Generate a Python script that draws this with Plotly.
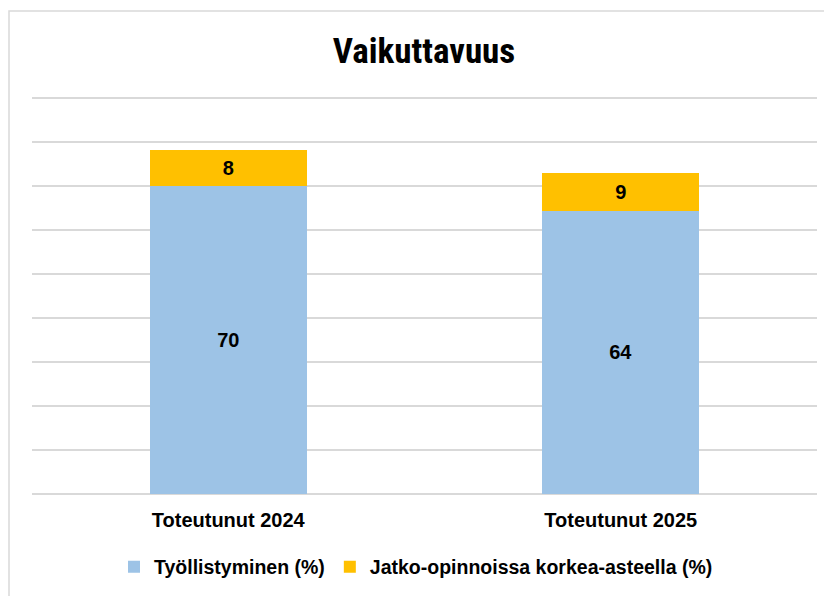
import plotly.graph_objects as go

categories = ["Toteutunut 2024", "Toteutunut 2025"]
tyollistyminen = [70.0, 64.4]
jatko_opinnot = [8.2, 8.6]
series_names = ["Työllistyminen (%)", "Jatko-opinnoissa korkea-asteella (%)"]

FONT = "Liberation Sans, Arial, sans-serif"
TITLE_FONT = "Liberation Sans Narrow, Arial Narrow, Roboto Condensed, sans-serif"

W, H = 832, 596
L, T, R, B = 24, 86, 809, 486  # plot area in figure px
PH = B - T
PW = R - L
YMAX = 90 * PH / 396  # 90 sits 396 px above the baseline

fig = go.Figure()
fig.add_trace(go.Bar(
    x=categories, y=tyollistyminen, name=series_names[0],
    marker=dict(color="#9DC3E6", line=dict(width=0)),
    texttemplate="<b>%{y:.0f}</b>", textposition="inside", insidetextanchor="middle",
    textfont=dict(color="black", size=20, family=FONT),
))
fig.add_trace(go.Bar(
    x=categories, y=jatko_opinnot, name=series_names[1],
    marker=dict(color="#FFC000", line=dict(width=0)),
    texttemplate="<b>%{y:.0f}</b>", textposition="inside", insidetextanchor="middle",
    textfont=dict(color="black", size=20, family=FONT),
))

fig.update_layout(
    barmode="stack",
    bargap=0.6,
    width=W, height=H,
    margin=dict(l=L, r=W - R, t=T, b=H - B),
    paper_bgcolor="white", plot_bgcolor="white",
    font=dict(family=FONT, color="black"),
    title=dict(text="<b>Vaikuttavuus</b>", x=0.5, xanchor="center", y=1 - 43 / H, yanchor="middle",
               font=dict(size=35, family=TITLE_FONT, color="black")),
    showlegend=True,
    legend=dict(orientation="h", x=(416 - 8 - L) / PW, xanchor="center", y=-(559 - B) / PH, yanchor="middle",
                font=dict(size=19.5, family=FONT, color="black", weight="bold"), traceorder="normal",
                itemwidth=30),
    uniformtext=dict(mode=False),
)
fig.update_yaxes(range=[0, YMAX], tick0=0, dtick=10, showticklabels=False, showgrid=True,
                 gridcolor="#D9D9D9", gridwidth=1.5, zeroline=True, zerolinecolor="#D9D9D9",
                 zerolinewidth=1.5, showline=False, fixedrange=True)
fig.update_xaxes(showline=False, tickfont=dict(size=20, family=FONT, color="black", weight="bold"),
                 ticks="", ticklabelstandoff=12)

fig.add_shape(type="rect", xref="paper", yref="paper",
              x0=(1 - L) / PW, x1=1.1, y0=-0.4, y1=1 + (T - 3) / PH,
              line=dict(color="#D9D9D9", width=1.5), fillcolor="rgba(0,0,0,0)", layer="below")

fig.write_html("out.html")
